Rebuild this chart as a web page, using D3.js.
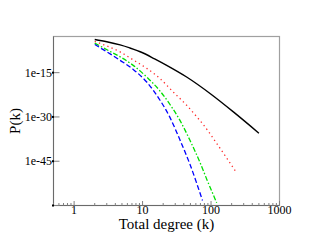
<!DOCTYPE html>
<html>
<head>
<meta charset="utf-8">
<script src="https://cdn.jsdelivr.net/npm/d3@7"></script>
<style>
  body { margin: 0; background: #fff; }
</style>
</head>
<body>
<div id="chart"></div>
<script>
// 数据：度 k 与概率 P(k)
const kBlack = [2, 3, 4.7, 6.5, 10, 15, 22.5, 44, 100, 212, 500];
const pBlack = [1.74e-4, 2.95e-5, 2.45e-6, 2.34e-7, 5.6e-9, 4.6e-11, 2.95e-13, 3.3e-17, 4.9e-23, 5.1e-29, 3.2e-36];

const kRed = [2, 3, 4.7, 7.3, 11.5, 18, 28, 44, 62, 77, 121, 170, 230];
const pRed = [3.7e-5, 1.12e-6, 1.05e-8, 2.1e-11, 2.9e-14, 9.5e-18, 2.9e-22, 9.3e-27, 1.07e-30, 2.5e-33, 1.12e-39, 1.0e-44, 2.95e-49];

const kGreen = [2, 3.5, 5, 7.3, 11.5, 18, 25, 35, 49, 69, 88, 121];
const pGreen = [9.8e-6, 9.1e-9, 1.0e-10, 2.95e-13, 3.3e-17, 5.9e-22, 2.0e-26, 8.1e-32, 1.48e-38, 3.7e-46, 3.2e-52, 8.1e-60];

const kBlue = [2, 3.5, 4.7, 7.3, 11.5, 18, 25, 35, 49, 75];
const pBlue = [3.5e-6, 1.26e-9, 1.45e-11, 1.26e-14, 6.9e-19, 4.6e-25, 8.5e-31, 2.1e-38, 1.17e-46, 4.9e-59];

const xTicks = [1, 10, 100, 1000];
const yTicks = [1e-60, 1e-45, 1e-30, 1e-15];
const yTickLabels = ['', '1e-45', '1e-30', '1e-15'];

const W = 314, H = 243;
const plot = { left: 53.5, right: 279.5, top: 36.5, bottom: 205.5 };
const serif = '"Liberation Serif", "Times New Roman", Times, serif';

const svg = d3.select('#chart').append('svg')
  .attr('width', W).attr('height', H)
  .style('font-family', serif);

// 比例尺（对数）
const x = d3.scaleLog().domain([0.5, 1000]).range([plot.left, plot.right]);
const y = d3.scaleLog().domain([1e-60, Math.pow(10, -2.75)]).range([plot.bottom, plot.top]);

// 边框
svg.append('rect')
  .attr('x', plot.left).attr('y', plot.top)
  .attr('width', plot.right - plot.left).attr('height', plot.bottom - plot.top)
  .attr('fill', 'none').attr('stroke', '#a0a0a0').attr('stroke-width', 1.2);
svg.append('line')                         // 左轴
  .attr('x1', plot.left).attr('x2', plot.left).attr('y1', plot.top).attr('y2', plot.bottom)
  .attr('stroke', '#6a6a6a');
svg.append('line')                         // 底轴
  .attr('x1', plot.left).attr('x2', plot.right).attr('y1', plot.bottom).attr('y2', plot.bottom)
  .attr('stroke', '#6a6a6a');

// x 轴刻度：主刻度 + 次刻度
const minor = [];
[0.1, 1, 10, 100].forEach(d => {
  for (let m = 2; m <= 9; m++) {
    const v = d * m;
    if (v >= 0.5 && v < 1000) minor.push(v);
  }
});
svg.selectAll('.xminor')
  .data(minor)
  .enter().append('line')
  .attr('x1', d => x(d)).attr('x2', d => x(d))
  .attr('y1', plot.bottom).attr('y2', plot.bottom - 2.5)
  .attr('stroke', '#808080');
svg.selectAll('.xmajor')
  .data(xTicks)
  .enter().append('line')
  .attr('x1', d => x(d)).attr('x2', d => x(d))
  .attr('y1', plot.bottom).attr('y2', plot.bottom - 4.5)
  .attr('stroke', '#808080');
svg.selectAll('.xlabel')
  .data(xTicks)
  .enter().append('text')
  .attr('x', d => x(d))
  .attr('y', plot.bottom + 8.5)
  .attr('text-anchor', 'middle')
  .style('font-size', '12px')
  .text(d => d);

// y 轴刻度
svg.selectAll('.ytick')
  .data(yTicks)
  .enter().append('line')
  .attr('x1', plot.left).attr('x2', plot.left + 6)
  .attr('y1', d => y(d)).attr('y2', d => y(d))
  .attr('stroke', '#808080');
svg.selectAll('.ydot')                      // 黑色小方块
  .data(yTicks)
  .enter().append('rect')
  .attr('x', plot.left - 1.5).attr('y', d => y(d) - 1)
  .attr('width', 2).attr('height', 2)
  .attr('fill', '#000');
svg.selectAll('.ylabel')
  .data(yTicks)
  .enter().append('text')
  .attr('x', plot.left - 1.5)
  .attr('y', d => y(d))
  .attr('dy', '0.35em')
  .attr('text-anchor', 'end')
  .style('font-size', '12px')
  .text((d, i) => yTickLabels[i]);

// 坐标轴标题
svg.append('text')
  .attr('x', (plot.left + plot.right) / 2)
  .attr('y', 228.5)
  .attr('text-anchor', 'middle')
  .style('font-size', '15px')
  .text('Total degree (k)');
svg.append('text')
  .attr('transform', `translate(20,${(plot.top + plot.bottom) / 2}) rotate(-90)`)
  .attr('text-anchor', 'middle')
  .style('font-size', '15px')
  .text('P(k)');

// 曲线
const series = [
  { k: kBlack, p: pBlack, color: '#000000', dash: null, w: 1.4 },
  { k: kRed, p: pRed, color: '#ff2a2a', dash: '1.3 3.2', w: 1.3 },
  { k: kGreen, p: pGreen, color: '#00e000', dash: '5 2 1.5 2', w: 1.3 },
  { k: kBlue, p: pBlue, color: '#0000ff', dash: '5 2.5', w: 1.3 }
];

const line = d3.line()
  .x(d => x(d[0]))
  .y(d => y(d[1]))
  .curve(d3.curveMonotoneX);

svg.selectAll('.curve')
  .data(series)
  .enter().append('path')
  .attr('class', 'curve')
  .attr('d', s => line(s.k.map((k, i) => [k, s.p[i]])))
  .attr('fill', 'none')
  .attr('stroke', s => s.color)
  .attr('stroke-width', s => s.w)
  .attr('stroke-dasharray', s => s.dash);
</script>
</body>
</html>
